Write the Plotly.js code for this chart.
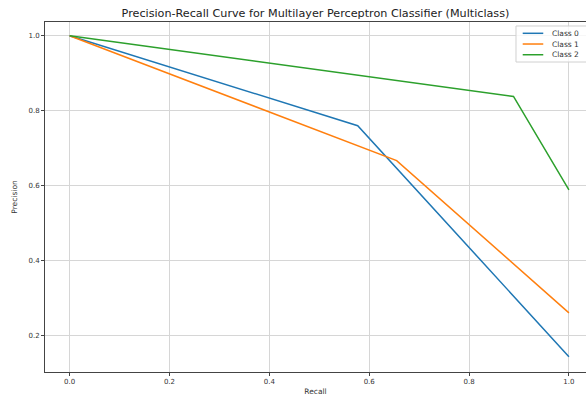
<!DOCTYPE html>
<html>
<head>
<meta charset="utf-8">
<script src="https://cdn.plot.ly/plotly-3.0.1.min.js"></script>
<style>html,body{margin:0;padding:0;background:#fff;}#chart{width:586px;height:396px;}</style>
</head>
<body>
<div id="chart"></div>
<script>
const classNames = ["Class 0", "Class 1", "Class 2"];
const recall0 = [0.0, 0.577, 1.0];
const precision0 = [1.0, 0.760, 0.144];
const recall1 = [0.0, 0.655, 1.0];
const precision1 = [1.0, 0.667, 0.261];
const recall2 = [0.0, 0.889, 1.0];
const precision2 = [1.0, 0.838, 0.589];
const colors = ["#1f77b4", "#ff7f0e", "#2ca02c"];
const xTicks = [0.0, 0.2, 0.4, 0.6, 0.8, 1.0];
const yTicks = [0.2, 0.4, 0.6, 0.8, 1.0];

const recalls = [recall0, recall1, recall2];
const precisions = [precision0, precision1, precision2];
const traces = classNames.map((n, i) => ({
  x: recalls[i], y: precisions[i], name: n, type: "scatter", mode: "lines",
  line: {color: colors[i], width: 1.5}, showlegend: false
}));

const font = "DejaVu Sans, sans-serif";

// Legend drawn in paper coordinates (compact, matplotlib-like, clipped at right edge)
const legTop = 0.9677, legStep = 0.0306;
const shapes = [{
  type: "rect", xref: "paper", yref: "paper", x0: 0.8706, x1: 1.05, y0: 0.8857, y1: 0.9886,
  fillcolor: "rgba(255,255,255,0.8)", line: {color: "#d0d0d0", width: 1}, layer: "above"
}];
const annotations = [];
classNames.forEach((n, i) => {
  const yy = legTop - i * legStep;
  shapes.push({type: "line", xref: "paper", yref: "paper", x0: 0.883, x1: 0.921, y0: yy, y1: yy,
               line: {color: colors[i], width: 1.5}, layer: "above"});
  annotations.push({xref: "paper", yref: "paper", x: 0.9335, y: yy, xanchor: "left", yanchor: "middle",
                    text: n, showarrow: false, font: {family: font, size: 7.5, color: "#333"}});
});

const layout = {
  width: 586, height: 396,
  margin: {l: 45, r: 0, t: 22, b: 24},
  paper_bgcolor: "#fff", plot_bgcolor: "#fff",
  font: {family: font, color: "#333", size: 7},
  title: {text: "Precision-Recall Curve for Multilayer Perceptron Classifier (Multiclass)",
          font: {family: font, size: 11.2, color: "#222"},
          x: 0.5, xref: "paper", xanchor: "center", y: 0.968, yref: "container", yanchor: "middle"},
  xaxis: {range: [-0.0493, 1.0342], tickvals: xTicks, ticktext: xTicks.map(v => v.toFixed(1)),
          showgrid: true, gridcolor: "#d6d6d6", gridwidth: 1, zeroline: false,
          showline: true, linecolor: "#444", linewidth: 1, mirror: true,
          ticks: "outside", ticklen: 3, tickcolor: "#444",
          tickfont: {family: font, size: 7, color: "#333"},
          title: {text: "Recall", font: {family: font, size: 7.5, color: "#333"}, standoff: 3}},
  yaxis: {range: [0.1032, 1.0365], tickvals: yTicks, ticktext: yTicks.map(v => v.toFixed(1)),
          showgrid: true, gridcolor: "#d6d6d6", gridwidth: 1, zeroline: false,
          showline: true, linecolor: "#444", linewidth: 1, mirror: false,
          ticks: "outside", ticklen: 3, tickcolor: "#444",
          tickfont: {family: font, size: 7, color: "#333"},
          title: {text: "Precision", font: {family: font, size: 7.5, color: "#333"}, standoff: 9}},
  shapes: shapes,
  annotations: annotations,
  showlegend: false
};
Plotly.newPlot("chart", traces, layout, {displayModeBar: false, staticPlot: true});
</script>
</body>
</html>
